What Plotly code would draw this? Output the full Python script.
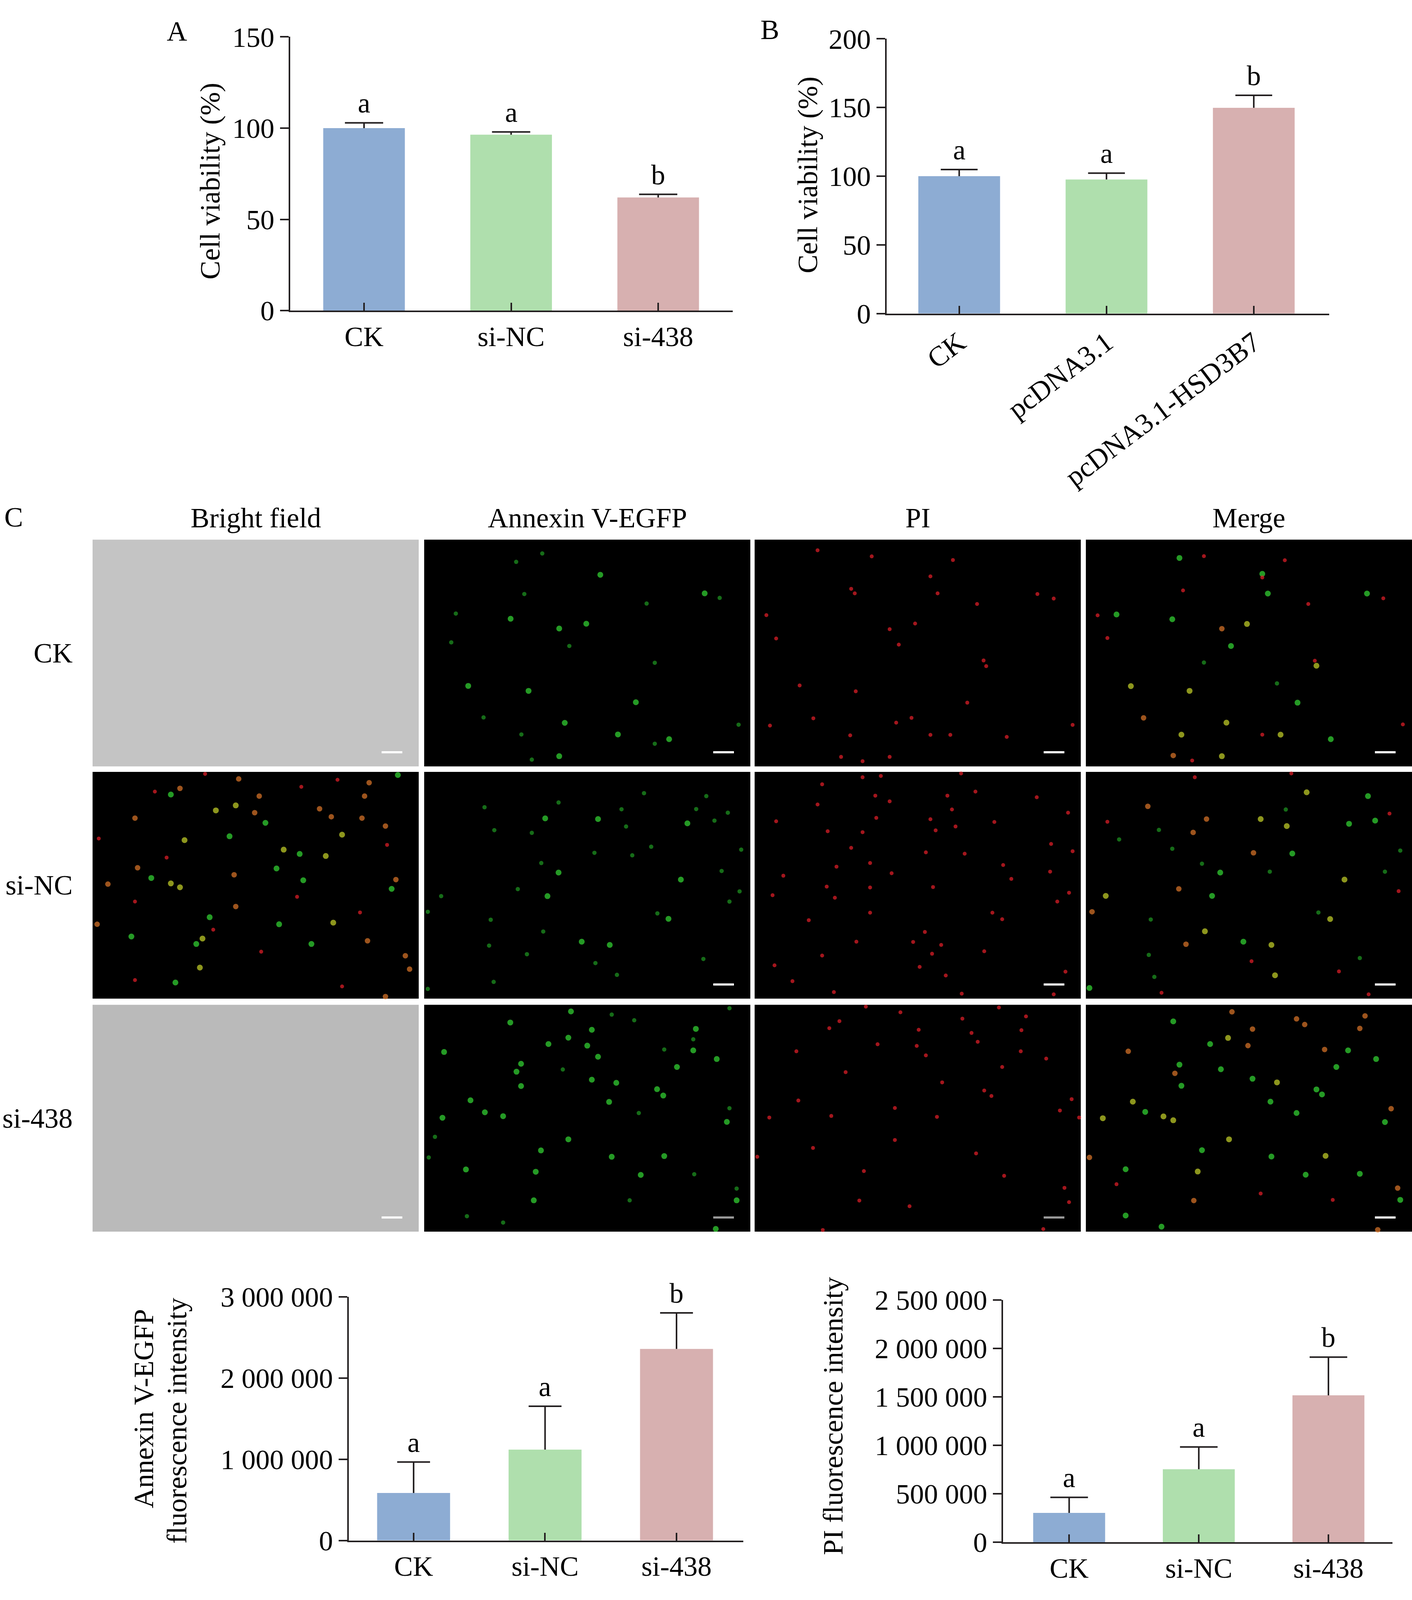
import plotly.graph_objects as go

# reference layout is 3615 x 4323; the browser viewport is only 4096 tall,
# so the page is drawn at 3615 x 4096 and all vertical positions are paper fractions
W, REF_H = 3615, 4323
FIG_H = 4096
FONT = "Liberation Serif"
FS = 72
AXIS_COLOR = "#231f20"
BAR_COLORS = ["#8dacd3", "#afdfad", "#d7b0b0"]

# ---- panel A: cell viability after siRNA
A_GROUPS = ["CK", "si-NC", "si-438"]
A_MEAN = [100, 96.4, 62.0]
A_ERR = [2.9, 1.5, 1.7]
A_LETTERS = ["a", "a", "b"]

# ---- panel B: cell viability after overexpression
B_GROUPS = ["CK", "pcDNA3.1", "pcDNA3.1-HSD3B7"]
B_MEAN = [100, 97.6, 149.8]
B_ERR = [4.8, 4.6, 9.1]
B_LETTERS = ["a", "a", "b"]

# ---- panel C: fluorescence intensities
C_GROUPS = ["CK", "si-NC", "si-438"]
ANNEXIN_MEAN = [585000, 1119000, 2360000]
ANNEXIN_ERR = [381000, 534000, 444000]
PI_MEAN = [303000, 753000, 1515000]
PI_ERR = [160000, 230000, 394000]
C_LETTERS = ["a", "a", "b"]
ANNEXIN_TICKS = [0, 1000000, 2000000, 3000000]
PI_TICKS = [0, 500000, 1000000, 1500000, 2000000, 2500000]

COLUMNS = ["Bright field", "Annexin V-EGFP", "PI", "Merge"]
ROWS = ["CK", "si-NC", "si-438"]

# microscopy panels: bright spots, (x %, y % from top, kind)
CK_ANNEXIN = [(54, 15.5, 'g'), (30.7, 24, 'G'), (86, 23.7, 'g'), (9.7, 32.6, 'G'), (26.5, 34.9, 'g'),
              (49.7, 37.1, 'g'), (41.4, 39.2, 'g'), (44.5, 46.9, 'G'), (8.3, 45.3, 'G'), (70.7, 54.3, 'G'),
              (13.5, 64.5, 'g'), (32, 66.7, 'g'), (64.9, 71.7, 'g'), (18.2, 78.4, 'G'), (43.1, 80.8, 'g'),
              (59.4, 85.9, 'g'), (75.1, 88, 'g'), (29.8, 85.9, 'G'), (41.4, 95.5, 'g'), (96.4, 81.6, 'G'),
              (28.2, 9.8, 'G'), (36.2, 6.1, 'G'), (90.6, 25.7, 'G'), (68.2, 28.2, 'G'), (70.7, 90, 'G'), (33, 97, 'G')]
CK_PI = [(35.9, 7.4, 'r'), (60.8, 9, 'r'), (19.3, 4.7, 'r'), (53.9, 16.2, 'r'), (29.6, 21.7, 'r'),
         (30.7, 23.7, 'r'), (56.1, 23.7, 'r'), (86.7, 24, 'r'), (68.2, 28.4, 'r'), (91.7, 26, 'r'),
         (3.6, 33.3, 'r'), (49.2, 37, 'r'), (41.4, 39.5, 'r'), (6.6, 43.6, 'r'), (44.2, 46.3, 'r'),
         (70.2, 53.3, 'r'), (71, 55.8, 'r'), (13.8, 64.3, 'r'), (31, 66.9, 'r'), (65.2, 71.9, 'r'),
         (18, 78.8, 'r'), (43.4, 80.7, 'r'), (97.5, 81.7, 'r'), (4.7, 82, 'r'), (29.3, 86.3, 'r'),
         (53.9, 86.1, 'r'), (60, 86.1, 'r'), (77.3, 87, 'r'), (26.5, 95.8, 'r'), (41.4, 95.8, 'r'),
         (33.1, 97.7, 'r'), (48.1, 78.6, 'r')]
CK_MERGE = [(28.7, 8.1, 'g'), (36.2, 7.3, 'r'), (61, 9.1, 'r'), (54.1, 15.1, 'g'), (54.1, 16.7, 'r'),
            (29.8, 22.4, 'r'), (55.8, 23.8, 'g'), (86.2, 23.8, 'g'), (91.2, 25.9, 'r'), (68.2, 28.4, 'r'),
            (9.4, 33, 'g'), (3.6, 33.4, 'r'), (26.5, 35.1, 'g'), (49.4, 37.2, 'y'), (41.7, 39.3, 'o'),
            (6.6, 43.4, 'r'), (44.5, 46.9, 'g'), (70.2, 53.4, 'r'), (70.7, 55.6, 'y'), (36.2, 54.2, 'G'),
            (13.8, 64.6, 'y'), (31.8, 66.7, 'y'), (58.6, 63.4, 'G'), (64.9, 71.9, 'g'), (17.7, 78.6, 'o'),
            (43.1, 80.7, 'y'), (97.2, 81.5, 'r'), (29.3, 86, 'y'), (54.1, 86, 'r'), (59.7, 86, 'y'),
            (75.1, 88, 'g'), (26.8, 95.2, 'o'), (41.7, 95.5, 'y'), (32.6, 97.4, 'r')]
SINC_FIELD = [(44.8, 3.1, 'o'), (34.5, 0.9, 'r'), (26.8, 7.3, 'o'), (24, 10, 'g'), (51.1, 10.7, 'o'),
              (64, 6.6, 'r'), (83.4, 10.7, 'o'), (84.8, 4.8, 'o'), (93.6, 1.4, 'g'), (43.9, 14.8, 'y'),
              (37.8, 17, 'y'), (49.7, 18, 'o'), (69.6, 16.3, 'o'), (73.2, 19.8, 'o'), (82.6, 20.4, 'o'),
              (13, 20.4, 'o'), (53, 22.5, 'g'), (89.8, 23.9, 'o'), (76.5, 27.7, 'y'), (28.2, 30.1, 'y'),
              (42, 28.4, 'g'), (58.6, 34.3, 'y'), (71.5, 37.1, 'y'), (63.5, 36.2, 'g'), (13.8, 42.3, 'o'),
              (56.4, 42.6, 'g'), (43.4, 45.4, 'o'), (93, 47.5, 'o'), (4.7, 49.5, 'o'), (24, 49.2, 'y'),
              (26.8, 50.9, 'y'), (91.7, 51.6, 'g'), (18, 46.8, 'g'), (64.6, 47.8, 'g'), (43.9, 59.4, 'o'),
              (35.9, 64.1, 'g'), (1.4, 67.2, 'o'), (57.2, 67.2, 'g'), (73.8, 66.5, 'y'), (11.9, 72.6, 'g'),
              (33.7, 73.5, 'y'), (31.8, 75.9, 'g'), (67.1, 75.9, 'g'), (84.3, 74.5, 'o'), (95.9, 81.1, 'o'),
              (32.9, 86.3, 'y'), (97.2, 87, 'o'), (25.4, 92.9, 'g'), (89.8, 99.1, 'o'), (19.1, 8.7, 'r'),
              (75.1, 3.5, 'r'), (1.9, 29.4, 'r'), (90.3, 32.2, 'r'), (13, 57.2, 'r'), (82, 62, 'r'),
              (51.7, 79.3, 'r'), (13, 91.8, 'r'), (76.5, 94.6, 'r'), (37, 69.6, 'r'), (62.7, 55.1, 'r'),
              (22.7, 37.8, 'r')]
SINC_ANNEXIN = [(67.4, 9.4, 'G'), (86.5, 10.7, 'G'), (18.5, 15.6, 'G'), (41.2, 13.5, 'G'), (60.5, 16.5, 'G'),
                (83.4, 16.4, 'G'), (93.1, 18, 'G'), (37.1, 20.5, 'g'), (53.3, 20.8, 'g'), (80.7, 22.7, 'g'),
                (89, 21.5, 'G'), (61.9, 24.1, 'G'), (21.5, 25.7, 'G'), (33, 26.9, 'G'), (69.6, 33, 'G'),
                (52.2, 35.7, 'G'), (63.8, 36.8, 'G'), (97.2, 34.3, 'G'), (35.9, 40.2, 'G'), (41.2, 44.4, 'g'),
                (78.7, 47.5, 'g'), (91.2, 43.7, 'G'), (28.7, 51.7, 'G'), (37.8, 54.8, 'g'), (96.7, 52.7, 'G'),
                (93.6, 57.2, 'G'), (71.5, 62.4, 'G'), (20.4, 65.2, 'G'), (74.9, 64.8, 'g'), (36.5, 70.4, 'G'),
                (48.3, 74.9, 'g'), (56.9, 76.3, 'g'), (19.9, 76.6, 'G'), (31.5, 80.4, 'G'), (85.6, 82.5, 'G'),
                (52.5, 84.3, 'G'), (21.3, 92.6, 'G'), (1.1, 95.7, 'G'), (59.1, 89.5, 'G'), (1.1, 61.7, 'G'),
                (5.2, 54.8, 'G')]
SINC_PI = [(33.1, 2.4, 'r'), (38.7, 1.8, 'r'), (63.3, 0.7, 'r'), (20.7, 5.5, 'r'), (67.7, 8.7, 'r'),
           (37, 10.5, 'r'), (59.1, 10.5, 'r'), (86.5, 11.2, 'r'), (19.3, 14.4, 'r'), (41.4, 13, 'r'),
           (60.5, 16.6, 'r'), (96.1, 18, 'r'), (37.3, 20.3, 'r'), (53.9, 20.9, 'r'), (6.6, 21.8, 'r'),
           (73.5, 22.1, 'r'), (61.6, 24.1, 'r'), (33.1, 26.6, 'r'), (22.4, 26.2, 'r'), (55.5, 25.8, 'r'),
           (90.9, 31.8, 'r'), (29.6, 33.5, 'r'), (52.5, 35.5, 'r'), (64.4, 36.1, 'r'), (97.5, 35, 'r'),
           (35.4, 40.2, 'r'), (25.1, 41.8, 'r'), (76.2, 41.1, 'r'), (90.6, 44, 'r'), (8.8, 45.8, 'r'),
           (42, 44.7, 'r'), (78.7, 47.2, 'r'), (22.1, 50.6, 'r'), (35.4, 51, 'r'), (54.7, 50.8, 'r'),
           (96.4, 53.3, 'r'), (5.5, 54.4, 'r'), (24.6, 55.5, 'r'), (92.8, 57.2, 'r'), (72.9, 62.1, 'r'),
           (75.9, 65, 'r'), (16.6, 65.4, 'r'), (35.4, 62.1, 'r'), (52.2, 70.6, 'r'), (31.2, 74.9, 'r'),
           (48.6, 75, 'r'), (57.2, 76.3, 'r'), (70.4, 79.1, 'r'), (20.7, 81, 'r'), (54.4, 80.2, 'r'),
           (6.1, 85.3, 'r'), (50.6, 86, 'r'), (95.3, 88.1, 'r'), (11.6, 92.3, 'r'), (58.6, 89.8, 'r'),
           (24.3, 97.1, 'r'), (63.5, 97.8, 'r'), (91.7, 98.1, 'r')]
SINC_MERGE = [(67.7, 9, 'y'), (86.5, 10.7, 'g'), (33.4, 2.4, 'r'), (63, 0.7, 'r'), (19, 15.2, 'o'),
              (37, 20.8, 'o'), (53.6, 20.8, 'y'), (61.3, 16.6, 'G'), (80.7, 22.9, 'g'), (88.7, 21.5, 'g'),
              (93.1, 18.4, 'r'), (6.6, 22, 'r'), (22.4, 25.6, 'G'), (32.9, 26.7, 'o'), (61.6, 23.9, 'y'),
              (10.2, 29.8, 'G'), (26.5, 33.9, 'G'), (51.4, 35.7, 'o'), (63.3, 36, 'g'), (96.4, 34.7, 'G'),
              (35.6, 40.5, 'G'), (41.2, 44.4, 'g'), (56.4, 44, 'G'), (91.7, 44, 'G'), (79.3, 47.5, 'y'),
              (28.5, 51.6, 'o'), (38.7, 54.7, 'g'), (6.1, 54.7, 'y'), (95.9, 52.6, 'r'), (71.3, 62, 'G'),
              (74.9, 64.9, 'y'), (19.9, 65.1, 'G'), (36.5, 70.3, 'y'), (48.3, 74.9, 'g'), (56.9, 76.3, 'y'),
              (30.7, 76, 'o'), (19.3, 80.7, 'G'), (84, 82.1, 'G'), (50.8, 83.5, 'r'), (58, 89.7, 'y'),
              (21, 90.4, 'G'), (1.1, 95.3, 'g'), (23.2, 97.4, 'r'), (86.7, 98.1, 'r'), (77.6, 88, 'r'),
              (1.9, 61.7, 'o')]
SI438_ANNEXIN = [(45, 2.9, 'g'), (93.6, 1.5, 'G'), (57.5, 4.3, 'G'), (26.4, 7.8, 'g'), (51.4, 11, 'g'),
                 (83.3, 10.6, 'g'), (64.4, 6.8, 'G'), (44.2, 14.5, 'g'), (38.1, 17.3, 'g'), (50, 18, 'g'),
                 (82.5, 15.2, 'G'), (6.1, 20.8, 'g'), (73.6, 19.7, 'G'), (82.5, 20.1, 'g'), (53.3, 22.9, 'g'),
                 (89.7, 23.9, 'g'), (29.7, 26, 'g'), (77.5, 27.4, 'g'), (42.5, 28.5, 'G'), (28.3, 29.5, 'g'),
                 (51.4, 33, 'g'), (58.9, 34.4, 'g'), (71.4, 37.2, 'g'), (29.7, 35.8, 'g'), (73.3, 40, 'g'),
                 (14.2, 42.1, 'g'), (56.7, 42.8, 'g'), (93.6, 45.6, 'G'), (5.6, 49.8, 'g'), (24.2, 49.1, 'g'),
                 (18.6, 47.4, 'g'), (65.8, 47.7, 'G'), (92.8, 51.6, 'g'), (44.2, 59.3, 'g'), (35.8, 64.2, 'g'),
                 (57.5, 67, 'g'), (73.6, 66.7, 'g'), (1.4, 67.3, 'G'), (12.8, 72.6, 'g'), (34.2, 73.6, 'g'),
                 (66.4, 75, 'g'), (82.8, 74.7, 'G'), (95.8, 81, 'G'), (95.8, 86.2, 'g'), (33.6, 86.2, 'g'),
                 (13.1, 93.2, 'G'), (89.4, 98.8, 'g'), (24.2, 96, 'G'), (63, 86.2, 'G'), (3.3, 58.2, 'G')]
SI438_PI = [(44.7, 3.3, 'r'), (74.9, 1.2, 'r'), (83.2, 5.1, 'r'), (34.1, 0.8, 'r'), (63.7, 6.1, 'r'),
            (26, 7.2, 'r'), (50.3, 11, 'r'), (66.5, 12.4, 'r'), (81.8, 11.2, 'r'), (22.9, 10.3, 'r'),
            (37.7, 17.4, 'r'), (49.7, 18.1, 'r'), (68.4, 16.3, 'r'), (12.8, 20.5, 'r'), (81.6, 20.5, 'r'),
            (52.5, 22.3, 'r'), (89.4, 23.7, 'r'), (75.9, 27.4, 'r'), (27.9, 29.7, 'r'), (57.5, 34.2, 'r'),
            (70.4, 37.8, 'r'), (97.2, 41.6, 'r'), (13.4, 42.2, 'r'), (72.6, 40.2, 'r'), (43, 45.5, 'r'),
            (93.6, 46.6, 'r'), (4.5, 49.7, 'r'), (23.5, 49, 'r'), (55.9, 49.4, 'r'), (99.5, 49.7, 'r'),
            (43, 59.6, 'r'), (17.9, 63.1, 'r'), (67.9, 65.5, 'r'), (0.8, 67, 'r'), (33.5, 73.3, 'r'),
            (76.5, 75.4, 'r'), (95, 80.7, 'r'), (32.1, 86.3, 'r'), (47.5, 88.8, 'r'), (96.4, 87, 'r'),
            (88.5, 98.9, 'r'), (20.9, 99.3, 'r')]
SI438_MERGE = [(44.8, 3.1, 'o'), (85.6, 4.9, 'o'), (64.6, 6.2, 'o'), (26.8, 7.3, 'g'), (51.1, 10.7, 'o'),
               (84, 10.4, 'o'), (67.1, 8.7, 'o'), (43.6, 14.6, 'y'), (38.1, 17.3, 'g'), (49.7, 18, 'o'),
               (80.4, 20.1, 'g'), (73.2, 19.7, 'o'), (13, 20.5, 'o'), (89, 23.9, 'g'), (28.7, 26.4, 'g'),
               (76.8, 27.4, 'g'), (41.4, 28.4, 'g'), (27.3, 30.2, 'o'), (58.6, 34.2, 'y'), (51.1, 32.6, 'g'),
               (70.7, 37.3, 'g'), (29.3, 35.7, 'g'), (72.4, 39.5, 'g'), (14.4, 42.7, 'y'), (56.6, 42.7, 'g'),
               (93.6, 45.8, 'o'), (5.2, 50, 'y'), (23.8, 49.2, 'y'), (18.2, 47.2, 'g'), (26.8, 50.9, 'y'),
               (64.6, 47.7, 'g'), (91.7, 51.7, 'g'), (43.9, 59.3, 'y'), (35.6, 64.1, 'g'), (56.9, 66.9, 'g'),
               (73.5, 66.6, 'y'), (1.1, 67.3, 'o'), (12.2, 72.5, 'g'), (34.3, 73.5, 'y'), (67.4, 74.9, 'g'),
               (84, 74.5, 'g'), (95.6, 80.8, 'o'), (33.1, 86.3, 'o'), (96.4, 86, 'g'), (12.2, 92.9, 'g'),
               (89.5, 99.2, 'o'), (23.2, 97.8, 'g'), (75.7, 86, 'r'), (53.6, 83.2, 'r'), (9.4, 79.1, 'r')]

SPOTS = {(0, 1): CK_ANNEXIN, (0, 2): CK_PI, (0, 3): CK_MERGE,
         (1, 0): SINC_FIELD, (1, 1): SINC_ANNEXIN, (1, 2): SINC_PI, (1, 3): SINC_MERGE,
         (2, 1): SI438_ANNEXIN, (2, 2): SI438_PI, (2, 3): SI438_MERGE}
SPOT_COLOR = {'g': "#34dc34", 'G': "#1f9a22", 'r': "#e8202a", 'y': "#c9d62a", 'o': "#e0782a"}
SPOT_SIZE = {'g': 15, 'G': 11, 'r': 10, 'y': 15, 'o': 14}

# panel geometry in reference pixels
PANEL_X0 = [237, 1086, 1932, 2780]
PANEL_Y0 = [1445, 2085, 2727]
PANEL_W, PANEL_H = 835, 625
BRIGHT = {(0, 0): "#c4c4c4", (2, 0): "#bababa"}
SCALEBAR = {(0, 0): "white", (0, 1): "white", (0, 2): "white", (0, 3): "white",
            (1, 1): "white", (1, 2): "white", (1, 3): "white",
            (2, 0): "white", (2, 1): "#9a9a9a", (2, 2): "#9a9a9a", (2, 3): "white"}


def fx(px):
    return px / W


def fy(py):
    return 1 - py / REF_H


fig = go.Figure()


def bar_panel(n, groups, means, errs, letters, xdom, ydom, xr, yr, cap):
    xa, ya = ("x", "y") if n == 1 else (f"x{n}", f"y{n}")
    idx = list(range(len(groups)))
    fig.add_trace(go.Bar(x=idx, y=means, width=0.555, marker=dict(color=BAR_COLORS, line_width=0),
                         xaxis=xa, yaxis=ya, showlegend=False))
    # one-sided error bars: whisker + cap
    ex, ey = [], []
    for i, m, e in zip(idx, means, errs):
        ex += [i, i, None, i - cap, i + cap, None]
        ey += [m, m + e, None, m + e, m + e, None]
    fig.add_trace(go.Scatter(x=ex, y=ey, mode="lines", line=dict(color=AXIS_COLOR, width=4),
                             xaxis=xa, yaxis=ya, showlegend=False, hoverinfo="skip"))
    for i, m, e, t in zip(idx, means, errs, letters):
        fig.add_annotation(x=i, y=m + e, xref=xa, yref=ya, text=t, showarrow=False,
                           xanchor="center", yanchor="bottom", yshift=8, font=dict(size=FS))
    axis_common = dict(showline=True, linewidth=4, linecolor=AXIS_COLOR, showgrid=False,
                       zeroline=False, tickwidth=4, tickcolor=AXIS_COLOR, fixedrange=True)
    fig.layout[f"xaxis{'' if n == 1 else n}"] = dict(domain=xdom, range=xr, anchor=ya, tickvals=idx,
                                                      ticktext=groups, ticks="inside", ticklen=20,
                                                      **axis_common)
    fig.layout[f"yaxis{'' if n == 1 else n}"] = dict(domain=ydom, range=yr, anchor=xa, ticks="outside",
                                                      ticklen=22, **axis_common)


bar_panel(1, A_GROUPS, A_MEAN, A_ERR, A_LETTERS, [fx(743), fx(1876)], [fy(814), fy(59.7)],
          [-0.502, 2.507], [0, 150], 0.13)
fig.update_layout(yaxis=dict(tickvals=[0, 50, 100, 150]))

bar_panel(2, B_GROUPS, B_MEAN, B_ERR, B_LETTERS, [fx(2270), fx(3403)], [fy(822), fy(65)],
          [-0.4925, 2.512], [0, 200], 0.125)
fig.update_layout(yaxis2=dict(tickvals=[0, 50, 100, 150, 200]), xaxis2=dict(tickangle=-37))

bar_panel(3, C_GROUPS, ANNEXIN_MEAN, ANNEXIN_ERR, C_LETTERS, [fx(893), fx(1903)], [fy(4203), fy(3532)],
          [-0.493, 2.508], [0, 3000000], 0.125)
fig.update_layout(yaxis3=dict(tickvals=ANNEXIN_TICKS,
                              ticktext=[f"{v:,}".replace(",", " ") for v in ANNEXIN_TICKS]))

bar_panel(4, C_GROUPS, PI_MEAN, PI_ERR, C_LETTERS, [fx(2568), fx(3565)], [fy(4208), fy(3540)],
          [-0.51, 2.494], [0, 2500000], 0.145)
fig.update_layout(yaxis4=dict(tickvals=PI_TICKS,
                              ticktext=[f"{v:,}".replace(",", " ") for v in PI_TICKS]))

# overlay axes in reference pixels for the micrograph grid
fig.update_layout(
    xaxis5=dict(domain=[0, 1], range=[0, W], anchor="y5", visible=False, fixedrange=True),
    yaxis5=dict(domain=[0, 1], range=[REF_H, 0], anchor="x5", visible=False, fixedrange=True),
)
for r, y0 in enumerate(PANEL_Y0):
    for c, x0 in enumerate(PANEL_X0):
        fig.add_shape(type="rect", xref="x5", yref="y5", x0=x0, x1=x0 + PANEL_W, y0=y0, y1=y0 + PANEL_H,
                      fillcolor=BRIGHT.get((r, c), "black"), line_width=0, layer="below")
        if (r, c) in SCALEBAR:
            fig.add_shape(type="rect", xref="x5", yref="y5", x0=x0 + 740, x1=x0 + 793,
                          y0=y0 + 583, y1=y0 + 589, fillcolor=SCALEBAR[(r, c)], line_width=0)
        spots = SPOTS.get((r, c))
        if spots:
            fig.add_trace(go.Scatter(
                x=[x0 + s[0] / 100 * PANEL_W for s in spots],
                y=[y0 + s[1] / 100 * PANEL_H for s in spots],
                mode="markers", xaxis="x5", yaxis="y5", showlegend=False, hoverinfo="skip",
                marker=dict(color=[SPOT_COLOR[s[2]] for s in spots],
                            size=[SPOT_SIZE[s[2]] for s in spots], line_width=0)))

# texts: panel letters, axis titles, grid labels
texts = [
    ("A", 453, 44, 0), ("B", 1971, 40, 0), ("C", 35, 1383, 0),
    ("Cell viability (%)", 538, 457, -90), ("Cell viability (%)", 2068, 440, -90),
    ("Annexin V-EGFP", 368, 3840, -90), ("fluorescence intensity", 453, 3873, -90),
    ("PI fluorescence intensity", 2133, 3860, -90),
]
for t, x, y, ang in texts:
    fig.add_annotation(x=fx(x), y=fy(y), xref="paper", yref="paper", text=t, showarrow=False,
                       textangle=ang, font=dict(size=FS), xanchor="center", yanchor="middle")
for c, t in enumerate(COLUMNS):
    fig.add_annotation(x=fx(PANEL_X0[c] + PANEL_W / 2), y=fy(1385), xref="paper", yref="paper", text=t,
                       showarrow=False, font=dict(size=FS), xanchor="center", yanchor="middle")
for r, t in enumerate(ROWS):
    fig.add_annotation(x=fx(188), y=fy(PANEL_Y0[r] + PANEL_H / 2), xref="paper", yref="paper", text=t,
                       showarrow=False, font=dict(size=FS), xanchor="right", yanchor="middle")

fig.update_layout(
    width=W, height=FIG_H, margin=dict(l=0, r=0, t=0, b=0),
    paper_bgcolor="white", plot_bgcolor="rgba(0,0,0,0)",
    font=dict(family=FONT, size=FS, color="black"),
    showlegend=False,
)

# drop the default page margin so the figure sits flush in the viewport; no modebar
fig.write_html("out.html", config={"displayModeBar": False},
               post_script="document.body.style.margin = '0';")
